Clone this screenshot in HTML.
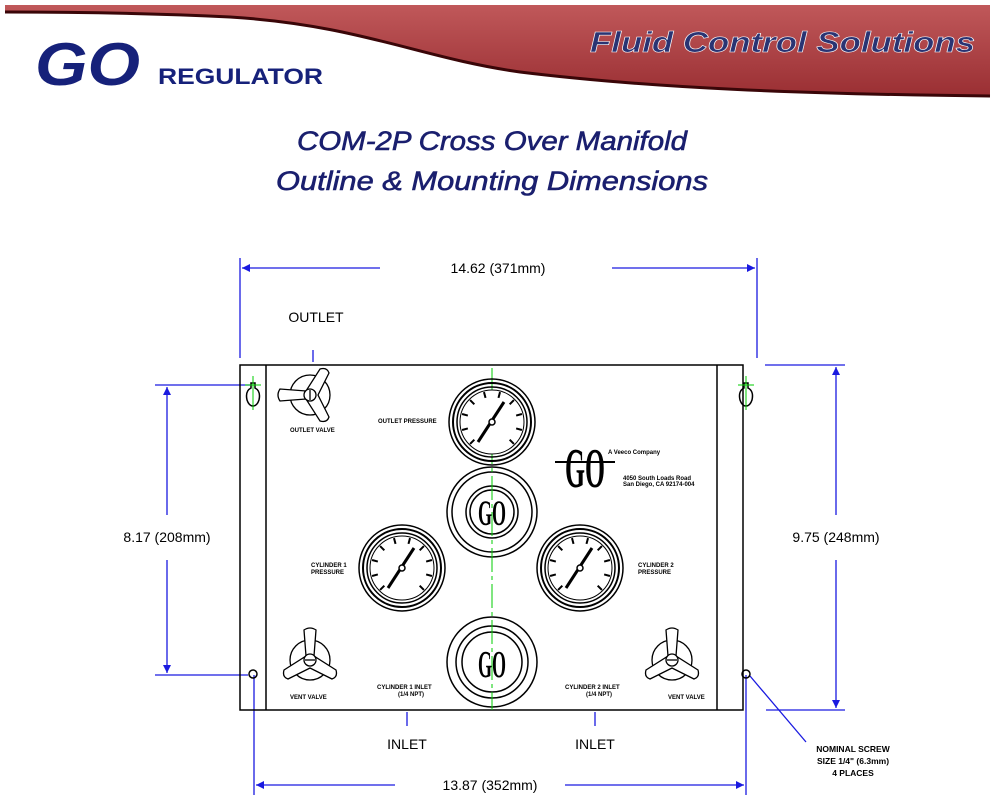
<!DOCTYPE html>
<html><head><meta charset="utf-8"><style>
body{margin:0;background:#fff;width:1000px;height:805px;overflow:hidden}
svg{display:block}
</style></head><body>
<svg width="1000" height="805" viewBox="0 0 1000 805" xmlns="http://www.w3.org/2000/svg" font-family="Liberation Sans, sans-serif">
<defs>
<linearGradient id="rg" x1="0" y1="0" x2="0" y2="1"><stop offset="0" stop-color="#c0585a"/><stop offset="1" stop-color="#9a2f33"/></linearGradient>
<marker id="ar" viewBox="0 0 10 10" refX="10" refY="5" markerWidth="12" markerHeight="8" orient="auto-start-reverse" markerUnits="userSpaceOnUse"><path d="M0,0L10,5L0,10z" fill="#1a1ae0"/></marker>
<g id="gauge">
<circle r="43" fill="none" stroke="#000" stroke-width="1.5"/>
<circle r="39" fill="none" stroke="#000" stroke-width="2"/>
<circle r="35" fill="none" stroke="#000" stroke-width="1.5"/>
<circle r="32" fill="#fff" stroke="#000" stroke-width="1"/>
<g stroke="#000" stroke-width="2">
<line x1="0" y1="-31" x2="0" y2="-25" transform="rotate(-135)"/><line x1="0" y1="-31" x2="0" y2="-25" transform="rotate(-105)"/><line x1="0" y1="-31" x2="0" y2="-25" transform="rotate(-75)"/><line x1="0" y1="-31" x2="0" y2="-25" transform="rotate(-45)"/><line x1="0" y1="-31" x2="0" y2="-25" transform="rotate(-15)"/><line x1="0" y1="-31" x2="0" y2="-25" transform="rotate(15)"/><line x1="0" y1="-31" x2="0" y2="-25" transform="rotate(45)"/><line x1="0" y1="-31" x2="0" y2="-25" transform="rotate(75)"/><line x1="0" y1="-31" x2="0" y2="-25" transform="rotate(105)"/><line x1="0" y1="-31" x2="0" y2="-25" transform="rotate(135)"/>
</g>
<line x1="-14" y1="20" x2="12" y2="-20" stroke="#000" stroke-width="3"/>
<circle r="3" fill="#fff" stroke="#000" stroke-width="1.5"/>
</g>
<g id="knob" fill="#fff" stroke="#000" stroke-width="1.3">
<circle r="20"/>
<path d="M-4,-4 L-6,-30 Q0,-34 6,-30 L4,-4 L26,10 Q28,17 22,19 L0,8 L-22,19 Q-28,17 -26,10 Z"/>
<circle r="6"/><line x1="-5" y1="0" x2="5" y2="0"/>
</g>
</defs>
<!-- header band -->
<path d="M5,5 L990,5 L990,96 C800,94 650,88 520,72 C420,58 360,25 230,17 C150,13 60,12 5,12 Z" fill="url(#rg)"/>
<path d="M990,96 C800,94 650,88 520,72 C420,58 360,25 230,17 C150,13 60,12 5,12" fill="none" stroke="#3a0608" stroke-width="3"/>
<text x="590" y="52" font-size="29" font-weight="bold" font-style="italic" fill="#2a3473" stroke="#fff" stroke-width="0.6" textLength="385" lengthAdjust="spacingAndGlyphs">Fluid Control Solutions</text>
<text x="35" y="85" font-size="60" font-weight="bold" font-style="italic" fill="#16217a" textLength="105" lengthAdjust="spacingAndGlyphs">GO</text>
<text x="158" y="84" font-size="22" font-weight="bold" fill="#16217a" textLength="165" lengthAdjust="spacingAndGlyphs">REGULATOR</text>
<text x="297" y="150" font-size="27" font-style="italic" fill="#1a1f6e" stroke="#1a1f6e" stroke-width="0.6" textLength="390" lengthAdjust="spacingAndGlyphs">COM-2P Cross Over Manifold</text>
<text x="276" y="190" font-size="27" font-style="italic" fill="#1a1f6e" stroke="#1a1f6e" stroke-width="0.6" textLength="432" lengthAdjust="spacingAndGlyphs">Outline &amp; Mounting Dimensions</text>
<!-- dimensions -->
<g stroke="#1a1ae0" stroke-width="1.3" fill="none">
<line x1="240" y1="258" x2="240" y2="358"/><line x1="757" y1="258" x2="757" y2="358"/>
<line x1="242" y1="268" x2="380" y2="268" marker-start="url(#ar)"/><line x1="612" y1="268" x2="755" y2="268" marker-end="url(#ar)"/>
<line x1="254" y1="675" x2="254" y2="795"/><line x1="746" y1="675" x2="746" y2="795"/>
<line x1="256" y1="785" x2="395" y2="785" marker-start="url(#ar)"/><line x1="565" y1="785" x2="744" y2="785" marker-end="url(#ar)"/>
<line x1="155" y1="385" x2="250" y2="385"/><line x1="155" y1="675" x2="248" y2="675"/>
<line x1="167" y1="387" x2="167" y2="515" marker-start="url(#ar)"/><line x1="167" y1="560" x2="167" y2="673" marker-end="url(#ar)"/>
<line x1="765" y1="365" x2="845" y2="365"/><line x1="766" y1="710" x2="845" y2="710"/>
<line x1="836" y1="367" x2="836" y2="515" marker-start="url(#ar)"/><line x1="836" y1="560" x2="836" y2="708" marker-end="url(#ar)"/>
<line x1="313" y1="350" x2="313" y2="362"/><line x1="407" y1="712" x2="407" y2="726"/><line x1="595" y1="712" x2="595" y2="726"/>
<line x1="750" y1="676" x2="806" y2="742"/>
</g>
<g fill="#000" font-size="13">
<text x="498" y="273" text-anchor="middle" font-size="14">14.62 (371mm)</text>
<text x="490" y="790" text-anchor="middle" font-size="14">13.87 (352mm)</text>
<text x="167" y="542" text-anchor="middle" font-size="14">8.17 (208mm)</text>
<text x="836" y="542" text-anchor="middle" font-size="14">9.75 (248mm)</text>
<text x="316" y="322" text-anchor="middle" font-size="14">OUTLET</text>
<text x="407" y="749" text-anchor="middle" font-size="14">INLET</text>
<text x="595" y="749" text-anchor="middle" font-size="14">INLET</text>
<g font-size="8.5" font-weight="bold" text-anchor="middle"><text x="853" y="752">NOMINAL SCREW</text><text x="853" y="764">SIZE 1/4" (6.3mm)</text><text x="853" y="776">4 PLACES</text></g>
</g>
<!-- box -->
<g fill="none" stroke="#000" stroke-width="1.5">
<rect x="240" y="365" width="503" height="345"/>
<line x1="266" y1="365" x2="266" y2="710"/><line x1="717" y1="365" x2="717" y2="710"/>
<circle cx="253" cy="674" r="4"/><circle cx="746" cy="674" r="4"/>
<path d="M251,383 h4 v5 q6,3 4,12 q-2,6 -6,6 q-4,0 -6,-6 q-2,-9 4,-12z"/>
<path d="M744,383 h4 v5 q6,3 4,12 q-2,6 -6,6 q-4,0 -6,-6 q-2,-9 4,-12z"/>
<circle cx="492" cy="512" r="45"/><circle cx="492" cy="512" r="40"/><circle cx="492" cy="512" r="26"/><circle cx="492" cy="512" r="22"/>
<circle cx="492" cy="662" r="45"/><circle cx="492" cy="662" r="36"/><circle cx="492" cy="662" r="30"/>
</g>
<g stroke="#0c0" stroke-width="1"><line x1="253" y1="376" x2="253" y2="410"/><line x1="746" y1="376" x2="746" y2="410"/><line x1="245" y1="385" x2="261" y2="385"/><line x1="738" y1="385" x2="754" y2="385"/><line x1="492" y1="368" x2="492" y2="710" stroke-dasharray="24 4 4 4"/></g>
<use href="#gauge" x="492" y="422"/><use href="#gauge" x="402" y="568"/><use href="#gauge" x="580" y="568"/>
<use href="#knob" x="310" y="395" transform="rotate(-90 310 395)"/>
<use href="#knob" x="310" y="660"/><use href="#knob" x="672" y="660"/>
<g font-weight="bold" fill="#000">
<text x="478" y="525" font-size="36" font-family="Liberation Serif, serif" textLength="28" lengthAdjust="spacingAndGlyphs">GO</text>
<text x="478" y="677" font-size="38" font-family="Liberation Serif, serif" textLength="28" lengthAdjust="spacingAndGlyphs">GO</text>
<text x="565" y="487" font-size="56" font-family="Liberation Serif, serif" textLength="40" lengthAdjust="spacingAndGlyphs">GO</text>
</g>
<line x1="555" y1="462" x2="615" y2="462" stroke="#000" stroke-width="2"/>
<g font-size="6" font-weight="bold" fill="#000">
<text x="290" y="432">OUTLET VALVE</text><text x="378" y="423">OUTLET PRESSURE</text>
<text x="311" y="567">CYLINDER 1</text><text x="311" y="574">PRESSURE</text>
<text x="638" y="567">CYLINDER 2</text><text x="638" y="574">PRESSURE</text>
<text x="290" y="699">VENT VALVE</text><text x="668" y="699">VENT VALVE</text>
<text x="377" y="689">CYLINDER 1 INLET</text><text x="398" y="696">(1/4 NPT)</text>
<text x="565" y="689">CYLINDER 2 INLET</text><text x="586" y="696">(1/4 NPT)</text>
<text x="608" y="454">A Veeco Company</text><text x="623" y="480">4050 South Loads Road</text><text x="623" y="486">San Diego, CA 92174-004</text>
</g>
</svg>
</body></html>
